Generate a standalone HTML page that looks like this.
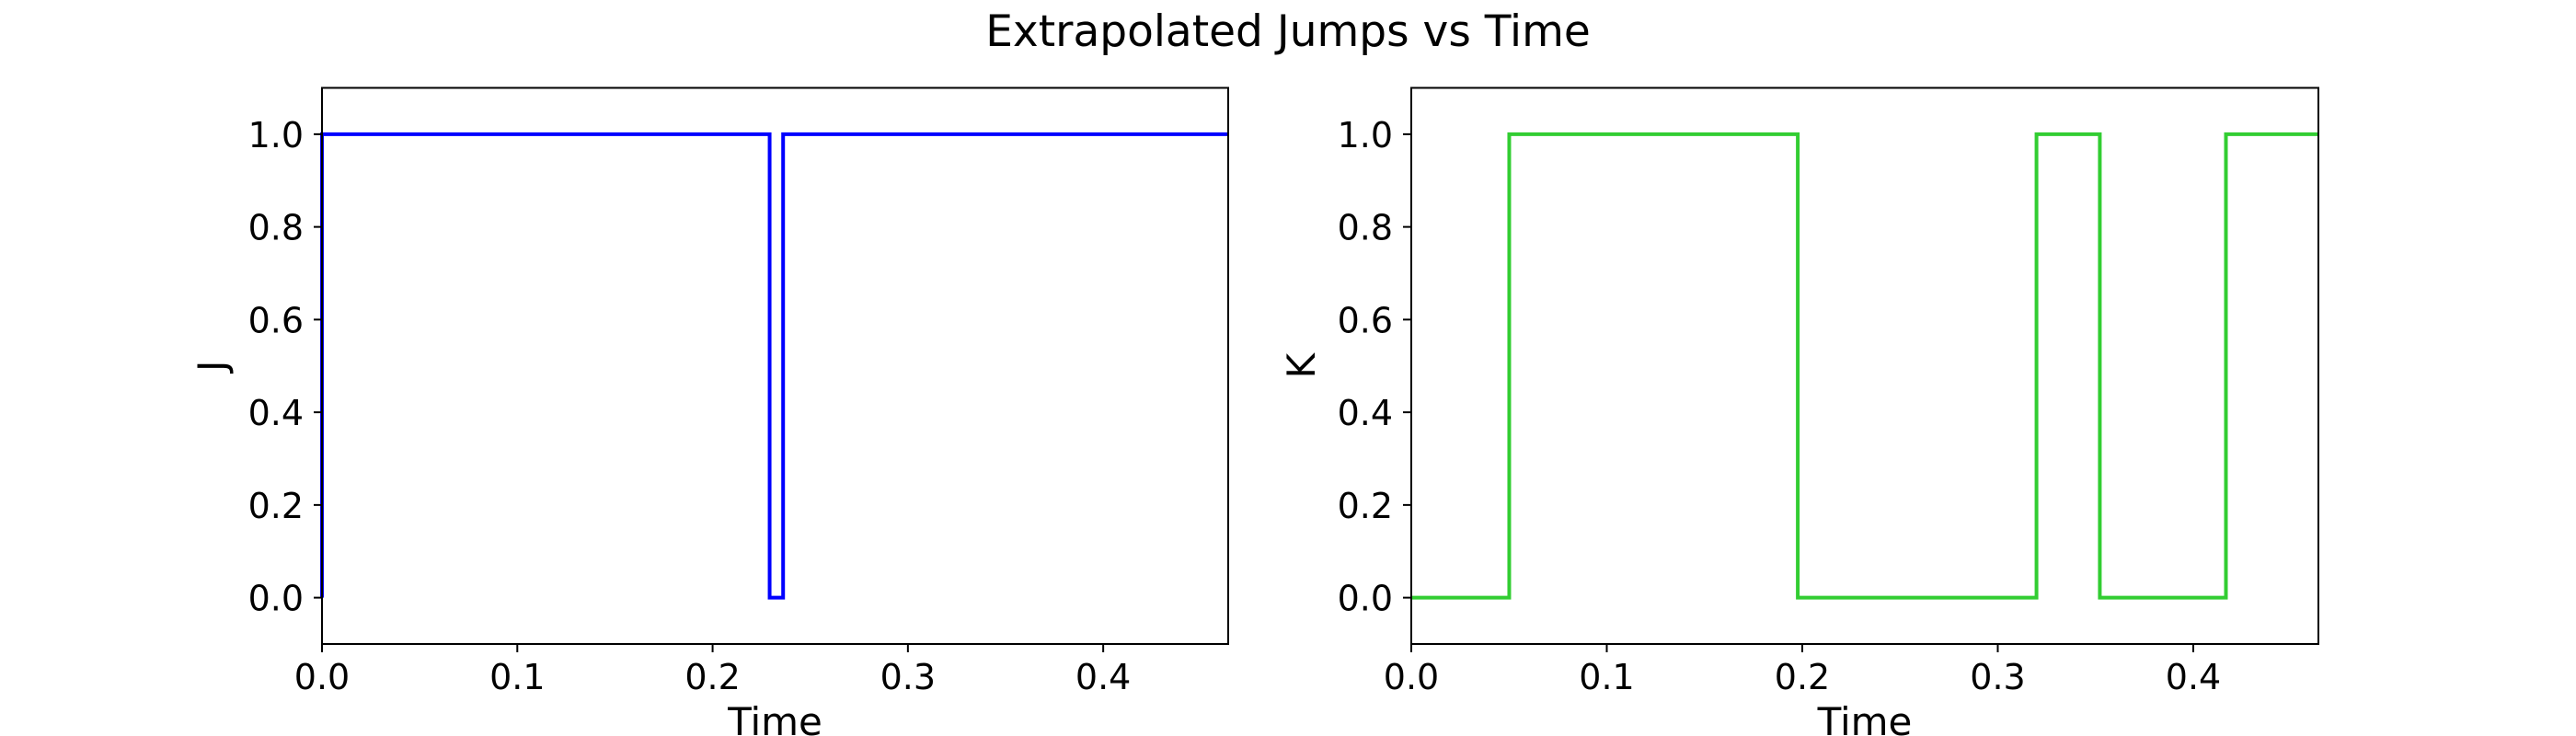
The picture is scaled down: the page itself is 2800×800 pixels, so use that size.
<!DOCTYPE html>
<html><head><meta charset="utf-8"><style>
html,body{margin:0;padding:0;background:#fff;}
svg{display:block;font-family:"DejaVu Sans","Liberation Sans",sans-serif;}
</style></head><body>
<svg id="fig" width="2800" height="800" viewBox="0 0 2800 800">
<rect width="2800" height="800" fill="#fff"/>
<text x="1400" y="50" font-size="47" text-anchor="middle">Extrapolated Jumps vs Time</text>
</svg>
<script>
const jTimes = [0, 0, 0.2292, 0.2361, 0.464];
const jValues = [0, 1, 0, 1, 1];
const kTimes = [0, 0.0501, 0.1977, 0.3198, 0.3522, 0.4167, 0.464];
const kValues = [0, 1, 0, 1, 0, 1, 1];
const xTicks = [0, 0.1, 0.2, 0.3, 0.4];
const xTickLabels = ["0.0", "0.1", "0.2", "0.3", "0.4"];
const yTicks = [0, 0.2, 0.4, 0.6, 0.8, 1.0];
const yTickLabels = ["0.0", "0.2", "0.4", "0.6", "0.8", "1.0"];
const xMax = 0.464, yMin = -0.1, yMax = 1.1;

const NS = "http://www.w3.org/2000/svg";
const svg = document.getElementById("fig");
function mk(tag, attrs, parent) {
  const e = document.createElementNS(NS, tag);
  for (const k in attrs) e.setAttribute(k, attrs[k]);
  (parent || svg).appendChild(e);
  return e;
}
function panel(name, L, R, T, B, times, values, color, ylabel) {
  const g = mk("g", {});
  
  
  const sx = t => L + (t / xMax) * (R - L);
  const sy = v => B - (v - yMin) / (yMax - yMin) * (B - T);
  let d = "";
  for (let i = 0; i < times.length; i++) {
    const x = sx(times[i]);
    if (i === 0) d += "M" + x + "," + sy(values[i]);
    else { d += "L" + x + "," + sy(values[i - 1]) + "L" + x + "," + sy(values[i]); }
  }
  const line = mk("path", {d: d, fill: "none", stroke: color, "stroke-width": 4, "stroke-linejoin": "miter"}, g);
  
  
  const frame = mk("rect", {x: L, y: T, width: R - L, height: B - T, fill: "none", stroke: "#000", "stroke-width": 2}, g);
  
  
  xTicks.forEach((t, i) => {
    const x = sx(t);
    mk("line", {x1: x, x2: x, y1: B, y2: B + 9, stroke: "#000", "stroke-width": 2}, g);
    const tx = mk("text", {x: x, y: 749, "font-size": 38, "text-anchor": "middle"}, g);
    tx.textContent = xTickLabels[i];
    
    
  });
  yTicks.forEach((v, i) => {
    const y = sy(v);
    mk("line", {x1: L - 9, x2: L, y1: y, y2: y, stroke: "#000", "stroke-width": 2}, g);
    const tx = mk("text", {x: L - 20, y: y + 14, "font-size": 38, "text-anchor": "end"}, g);
    tx.textContent = yTickLabels[i];
    
    
  });
  const xl = mk("text", {x: (L + R) / 2, y: 799, "font-size": 42, "text-anchor": "middle"}, g);
  xl.textContent = "Time";
  
  
  const cy = (T + B) / 2;
  const yl = mk("text", {x: L - 105, y: cy, "font-size": 42, "text-anchor": "middle", transform: "rotate(-90 " + (L - 105) + " " + cy + ")"}, g);
  yl.textContent = ylabel;
  
  
}
panel("j", 350, 1335, 95.5, 700, jTimes, jValues, "#0000ff", "J");
panel("k", 1534, 2520, 95.5, 700, kTimes, kValues, "#32cd32", "K");
</script>
</body></html>
